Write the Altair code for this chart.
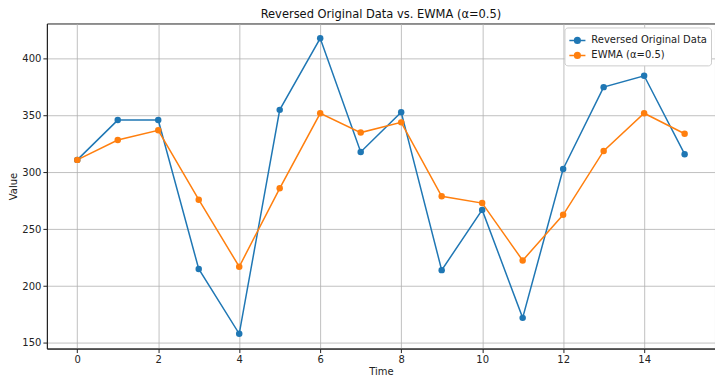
import altair as alt
import pandas as pd

time = list(range(16))
original = [311, 346, 346, 215, 158, 355, 418, 318, 353, 214, 267, 172, 303, 375, 385, 316]
ewma = [311, 328.5, 337, 276, 217, 286, 352, 335, 344, 279, 273, 222.5, 262.7, 318.9, 352, 334]
series_names = ["Reversed Original Data", "EWMA (α=0.5)"]
colors = ["#1f77b4", "#ff7f0e"]

df = pd.DataFrame({
    "Time": time * 2,
    "Value": original + ewma,
    "Series": [series_names[0]] * len(time) + [series_names[1]] * len(time),
})

sym = "M-1,0L-0.35,0M0.35,0L1,0M-0.35,0A0.35,0.35,0,1,1,0.35,0A0.35,0.35,0,1,1,-0.35,0Z"

chart = alt.Chart(df).mark_line(
    point=alt.OverlayMarkDef(filled=True, size=42, opacity=1),
    strokeWidth=1.5,
).encode(
    x=alt.X("Time:Q",
            scale=alt.Scale(domain=[-0.75, 15.75], nice=False, zero=False),
            axis=alt.Axis(values=list(range(0, 15, 2)), title="Time", format="d")),
    y=alt.Y("Value:Q",
            scale=alt.Scale(domain=[145, 431], nice=False, zero=False),
            axis=alt.Axis(values=[150, 200, 250, 300, 350, 400], title="Value")),
    color=alt.Color("Series:N",
                    scale=alt.Scale(domain=series_names, range=colors),
                    sort=series_names,
                    legend=alt.Legend(
                        title=None, orient="top-right", offset=4,
                        symbolType=sym, symbolSize=260, symbolStrokeWidth=1.5,
                        fillColor="white", strokeColor="#cccccc", padding=4,
                        cornerRadius=3, labelFontSize=10, labelFont="DejaVu Sans",
                        labelColor="#222222", rowPadding=0, labelOffset=5,
                    )),
    order="Time:Q",
).properties(
    width=670,
    height=326,
    title=alt.TitleParams("Reversed Original Data vs. EWMA (α=0.5)",
                          font="DejaVu Sans", fontSize=11.5, fontWeight="normal",
                          color="#111111", offset=3),
    autosize=alt.AutoSizeParams(type="none"),
    padding={"left": 39, "top": 15, "right": 0, "bottom": 30},
).configure_axis(
    grid=True, gridColor="#b0b0b0", gridWidth=0.8,
    domainColor="#222222", tickColor="#222222",
    labelFont="DejaVu Sans", titleFont="DejaVu Sans",
    labelFontSize=10, titleFontSize=10, titleFontWeight="normal",
    labelColor="#222222", titleColor="#222222", tickSize=4,
).configure_axisX(titlePadding=2).configure_axisY(titlePadding=3).configure_view(
    stroke="#222222", strokeWidth=1
)

chart.save("out.html", embed_options={"renderer": "svg", "actions": False})
